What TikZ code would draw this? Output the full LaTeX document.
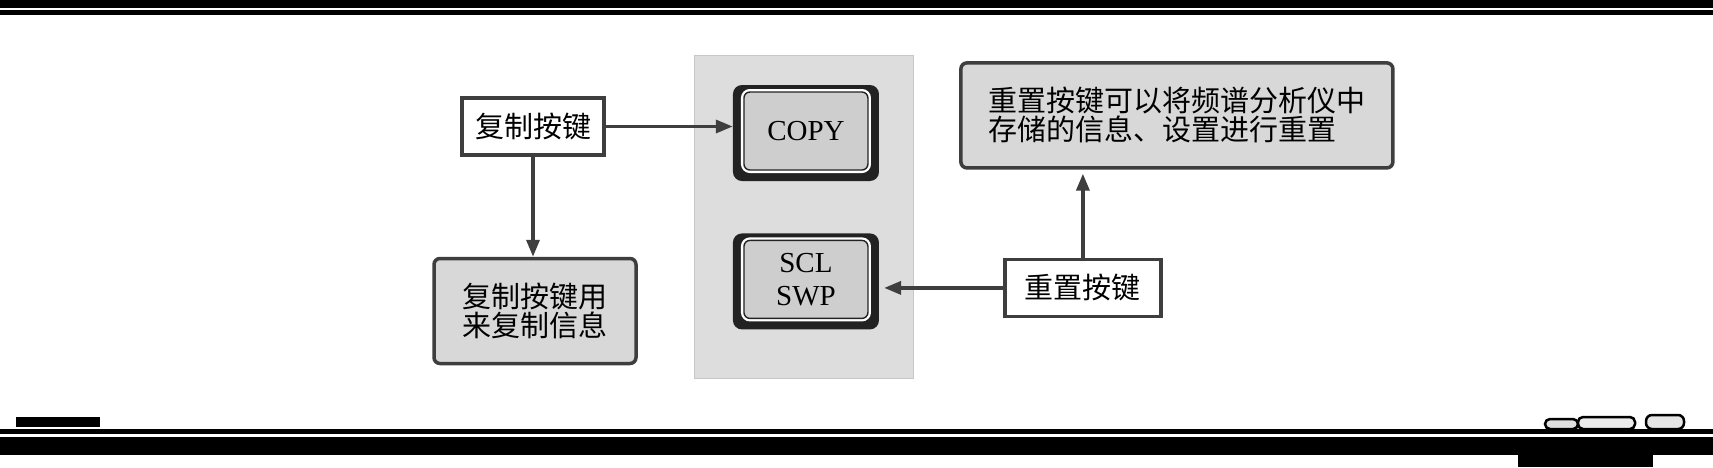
\documentclass[tikz,border=0pt]{standalone}
\usepackage{fontspec}
\setmainfont{Liberation Serif}
\newfontfamily\cjk{Noto Sans CJK SC}
\usetikzlibrary{arrows.meta,positioning,backgrounds}
\definecolor{linegray}{RGB}{62,62,62}
\definecolor{boxgray}{RGB}{216,216,216}
\definecolor{panelgray}{RGB}{221,221,221}
\definecolor{keyblack}{RGB}{34,34,34}
\definecolor{keygray}{RGB}{206,206,206}

\begin{document}
\begin{tikzpicture}[x=1pt, y=-1pt,
  namebox/.style={draw=linegray, line width=3.5pt, fill=white, align=center, minimum width=142pt, minimum height=57pt, font=\cjk\fontsize{29}{29}\selectfont},
  notebox/.style={draw=linegray, line width=3.5pt, rounded corners=6pt, fill=boxgray, align=center, font=\cjk\fontsize{29}{29}\selectfont},
  keycap/.style={fill=keyblack, rounded corners=9pt, minimum width=146pt, minimum height=96pt},
  keyface/.style={fill=keygray, draw=keyblack, line width=1.4pt, rounded corners=6pt, minimum width=124pt, minimum height=78pt, preaction={draw=white, line width=6pt}, align=center, font=\fontsize{29}{33}\selectfont},
  arr/.style={-{Triangle[length=17pt,width=13pt]}, draw=linegray, line width=3.5pt}
]
\useasboundingbox (0,0) rectangle (1713,467);

% page rules
\fill[black] (0,0) rectangle (1713,8);
\fill[black] (0,10) rectangle (1713,15);
\fill[black] (16,417) rectangle (100,427);
\fill[black] (0,429) rectangle (1713,434);
\fill[black] (0,437) rectangle (1713,455);
\fill[black] (1518,455) rectangle (1653,467);
\draw[black, line width=2.5pt, fill=gray!25, rounded corners=5pt] (1545,419) rectangle (1578,429);
\draw[black, line width=2.5pt, fill=gray!15, rounded corners=5pt] (1578,417) rectangle (1635,429);
\draw[black, line width=2.5pt, fill=gray!20, rounded corners=6pt] (1646,415) rectangle (1684,429);

% key panel
\fill[panelgray, draw=panelgray!90!black, line width=1pt] (694,55) rectangle (913,378);

\node[namebox] (copyname) at (533,126.5) {复制按键};
\node[keycap, right=127pt of copyname, yshift=-6.5pt] (copykey) {};
\node[keyface, yshift=2pt] (copyface) at (copykey) {COPY};
\node[notebox, below=100pt of copyname, xshift=2pt, minimum width=202pt, minimum height=105pt] (copynote) {复制按键用\\来复制信息};

\node[keycap, below=52pt of copykey] (swpkey) {};
\node[keyface, yshift=2pt] (swpface) at (swpkey) {SCL\\SWP};
\node[namebox, right=124pt of swpkey, yshift=-6.5pt, minimum width=156pt] (resetname) {重置按键};
\node[notebox, above=88pt of resetname, xshift=94pt, align=left, minimum width=432pt, minimum height=105pt] (resetnote) {重置按键可以将频谱分析仪中\\存储的信息、设置进行重置};

\draw[arr] (copyname.east) -- (copyname.east -| copykey.west);
\draw[arr] (copyname.south) -- (copyname.south |- copynote.north);
\draw[arr, shorten >=5pt] (resetname.west) -- (resetname.west -| swpkey.east);
\draw[arr, shorten >=4pt] (resetname.north) -- (resetname.north |- resetnote.south);
\end{tikzpicture}
\end{document}
